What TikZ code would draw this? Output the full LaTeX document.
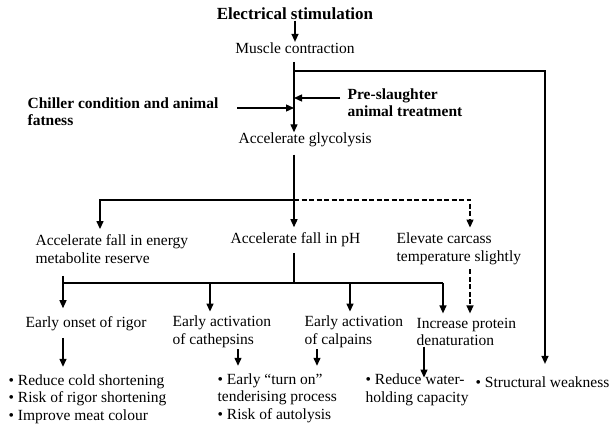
\documentclass[tikz,border=0pt]{standalone}
\usepackage{fontspec}
\setmainfont{Liberation Serif}
\usetikzlibrary{arrows.meta}
\tikzset{
    txt/.style={
           anchor=west,
           inner sep=0pt,
           align=left,
           font=\fontsize{15.5}{17.5}\selectfont,
           },
    hdr/.style={
           txt,
           font=\fontsize{15.5}{17}\selectfont\bfseries,
           },
    dash line/.style={dash pattern=on 5pt off 2.5pt},
}

\begin{document}
\begin{tikzpicture}[x=1pt,y=-1pt,>={Triangle[length=8pt,width=7pt]},line width=1.3pt]
\useasboundingbox (0,0) rectangle (614,427);
\node[hdr,anchor=center,font=\fontsize{17}{19}\selectfont\bfseries](elecstim) at (295,14) {Electrical stimulation};
\node[txt,anchor=center](muscle) at (295,48) {Muscle contraction};
\node[hdr](chiller) at (27,112) {Chiller condition and animal\\fatness};
\node[hdr](preslaughter) at (347,103) {Pre-slaughter\\animal treatment};
\node[txt](glycolysis) at (238,140) {Accelerate glycolysis};
\node[txt](energy) at (35,249) {Accelerate fall in energy\\metabolite reserve};
\node[txt](fallph) at (230,240) {Accelerate fall in pH};
\node[txt](elevate) at (396,249) {Elevate carcass\\temperature slightly};
\node[txt](rigor) at (25,324) {Early onset of rigor};
\node[txt](cathepsins) at (172,332) {Early activation\\of cathepsins};
\node[txt](calpains) at (304,332) {Early activation\\of calpains};
\node[txt](denat) at (416,332) {Increase protein\\denaturation};
\node[txt](rigorfx) at (8,399) {\textbullet\ Reduce cold shortening\\\textbullet\ Risk of rigor shortening\\\textbullet\ Improve meat colour};
\node[txt](cathfx) at (217,398) {\textbullet\ Early “turn on”\\tenderising process\\\textbullet\ Risk of autolysis};
\node[txt](denatfx) at (365,390) {\textbullet\ Reduce water-\\holding capacity};
\node[txt](weakness) at (475,382) {\textbullet\ Structural weakness};

% junction points
\coordinate (trunk) at (294,62);
\coordinate (fork) at (294,71);
\coordinate (weak) at (545,71);
\coordinate (split) at (294,200);
\coordinate (splitl) at (100,200);
\coordinate (splitr) at (470,200);
\coordinate (bar) at (294,283);
\coordinate (barl) at (63,283);
\coordinate (barr) at (443,283);
\coordinate (barc) at (210,283);
\coordinate (bard) at (350,283);
\coordinate (cathdown) at (238,349);
\coordinate (calpdown) at (317,349);
\coordinate (denatdown) at (424,346);

\draw[->] (elecstim) -- (muscle);
\draw[->] (trunk) -- (trunk |- glycolysis.north);
\draw[->] (fork) -- (weak) -- ([yshift=12pt]weak |- weakness.north);
\draw[->] ([xshift=18pt,yshift=4pt]chiller.east) -- ([yshift=4pt]chiller.east -| trunk);
\draw[->] ([xshift=-7pt,yshift=5pt]preslaughter.west) -- ([yshift=5pt]preslaughter.west -| trunk);

\draw ([yshift=-7pt]trunk |- glycolysis.south) -- (split);
\draw[->] (split) -- (splitl) -- ([yshift=5pt]splitl |- energy.north);
\draw[->] (split) -- ([yshift=5pt]split |- fallph.north);
\draw[->,dash line] (split) -- (splitr) -- ([yshift=5pt]splitr |- elevate.north);

\draw ([yshift=-5pt]bar |- fallph.south) -- (bar);
\draw (barl) -- (barr);
\draw[->] ([yshift=7pt]barl) -- ([yshift=8pt]barl |- rigor.north);
\draw[->] (barc) -- ([yshift=4pt]barc |- cathepsins.north);
\draw[->] (bard) -- ([yshift=4pt]bard |- calpains.north);
\draw[->] (barr) -- ([yshift=4pt]barr |- denat.north);
\draw[->,dash line] ([yshift=-4pt]splitr |- elevate.south) -- ([yshift=4pt]splitr |- denat.north);

\draw[->] ([yshift=-6pt]barl |- rigor.south) -- ([yshift=7pt]barl |- rigorfx.north);
\draw[->] ([yshift=-1pt]cathdown |- cathepsins.south) -- ([yshift=7pt]cathdown |- cathfx.north);
\draw[->] ([yshift=-1pt]calpdown |- calpains.south) -- ([yshift=7pt]calpdown |- cathfx.north);
\draw[->] (denatdown |- denat.south) -- ([yshift=-4pt]denatdown |- denatfx.north);
\end{tikzpicture}
\end{document}
